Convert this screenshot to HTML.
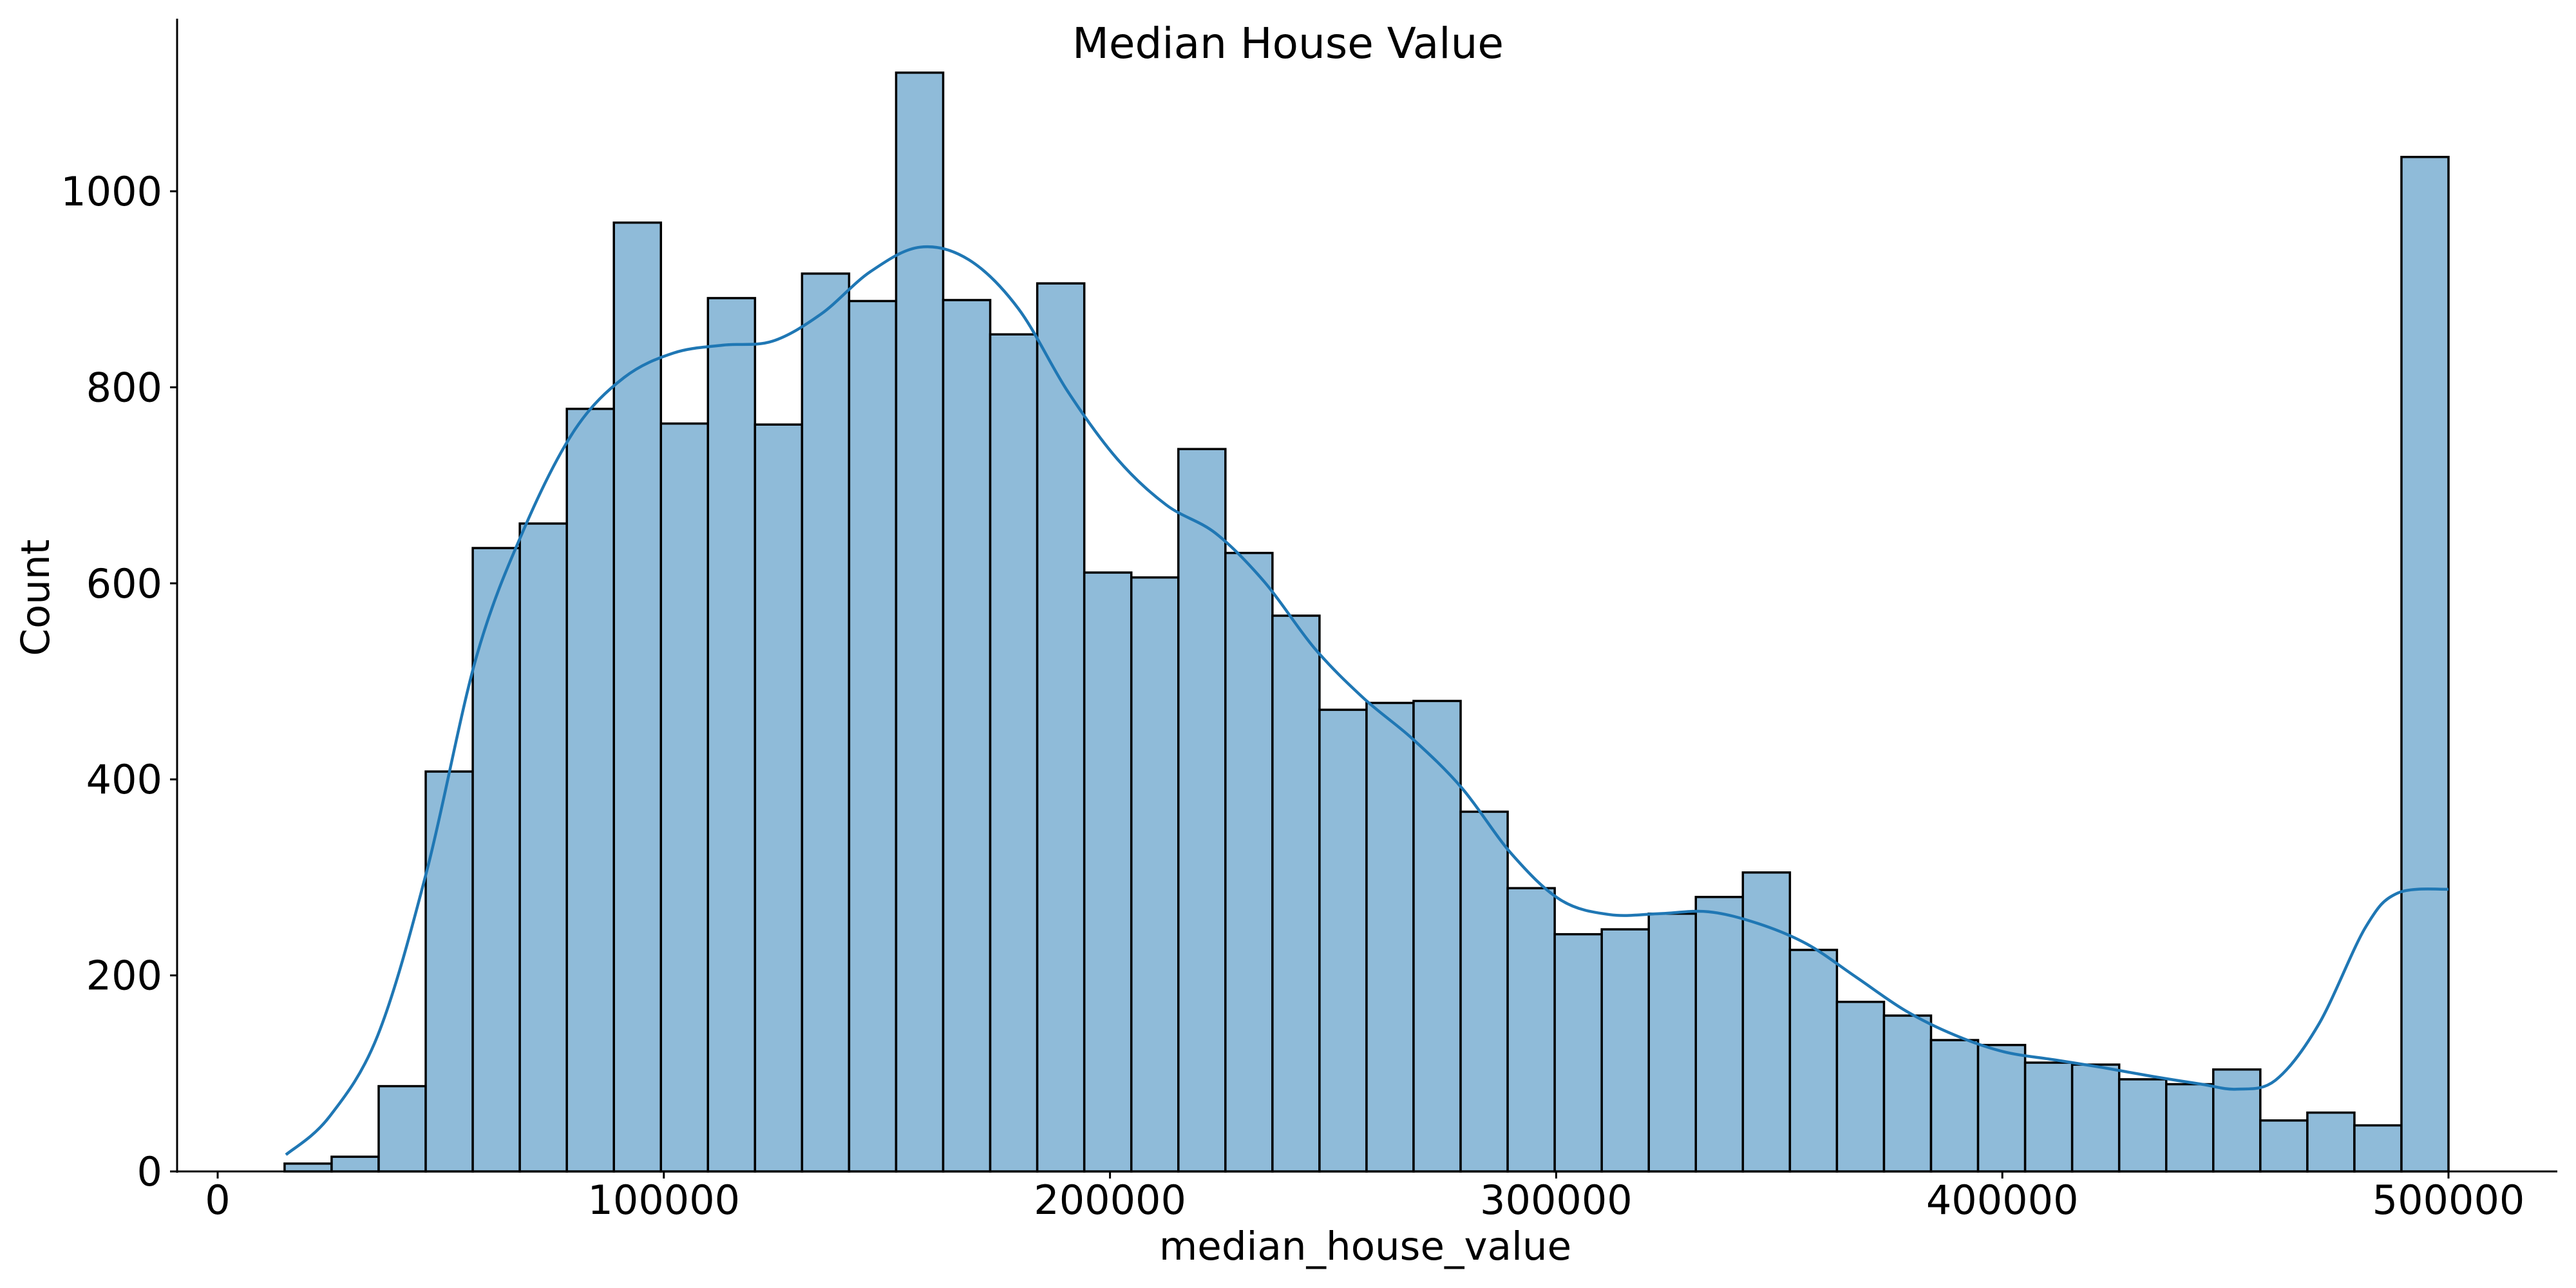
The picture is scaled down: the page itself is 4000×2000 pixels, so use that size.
<!DOCTYPE html>
<html><head><meta charset="utf-8"><style>
html,body{margin:0;padding:0;background:#fff;width:4000px;height:2000px;overflow:hidden}
svg text{font-family:"DejaVu Sans","Liberation Sans",sans-serif;fill:#000}
</style></head><body>
<svg id="chart" width="4000" height="2000" viewBox="0 0 4000 2000" xmlns="http://www.w3.org/2000/svg">
<text x="2000" y="90" font-size="66" text-anchor="middle">Median House Value</text>
<text x="2120" y="1956" font-size="61" text-anchor="middle">median_house_value</text>
<text x="0" y="0" font-size="61" text-anchor="middle" transform="translate(76,928) rotate(-90)">Count</text>
<g id="bars"></g>
<g id="kde"></g>
<g id="axes"></g>
</svg>
<script>
const binStart = 14999;
const binEnd = 500001;
const counts = [8,15,87,408,636,661,778,968,763,891,762,916,888,1121,889,854,906,611,606,737,631,567,471,478,480,367,289,242,247,263,280,305,226,173,159,134,129,111,109,94,89,104,52,60,47,1035];
const kdeX = [15300,24900,35900,46900,58000,69000,80100,91100,102200,113200,124300,135300,146300,157400,168400,179500,190500,201600,212600,223700,234700,245800,256800,267900,278900,290000,301000,312000,323100,334100,345200,356200,367300,378300,389400,400400,411500,422500,433600,444600,452500,461200,470900,481400,488600,500000];
const kdeY = [17,55,139,307,525,659,757,810,835,843,847,875,918,943,930,880,796,727,680,651,601,534,483,441,391,324,277,262,263,265,253,232,198,164,139,122,114,106,97,89,84,93,150,249,284,288];
const xTicks = [0,100000,200000,300000,400000,500000];
const yTicks = [0,200,400,600,800,1000];

const X0=338, X1=3802, Y0=1819, Y1000=297;
const sx = v => X0 + (v/500000)*(X1-X0);
const sy = v => Y0 - (v/1000)*(Y0-Y1000);
const NS='http://www.w3.org/2000/svg';
function mk(tag, attrs){const e=document.createElementNS(NS,tag);for(const k in attrs)e.setAttribute(k,attrs[k]);return e;}

const bars=document.getElementById('bars');
const w=(binEnd-binStart)/counts.length;
counts.forEach((c,i)=>{
  const a=binStart+i*w, b=a+w;
  const r=mk('rect',{x:sx(a),y:sy(c),width:sx(b)-sx(a),height:sy(0)-sy(c),fill:'#8fbbd9',stroke:'#000','stroke-width':3.5});
  
  
  bars.appendChild(r);
});

const kde=document.getElementById('kde');
const pts=kdeX.map((x,i)=>[sx(x),sy(kdeY[i])]);
let d='M'+pts[0][0].toFixed(1)+','+pts[0][1].toFixed(1);
for(let i=0;i<pts.length-1;i++){
  const p0=pts[Math.max(0,i-1)],p1=pts[i],p2=pts[i+1],p3=pts[Math.min(pts.length-1,i+2)];
  const c1=[p1[0]+(p2[0]-p0[0])/6,p1[1]+(p2[1]-p0[1])/6];
  const c2=[p2[0]-(p3[0]-p1[0])/6,p2[1]-(p3[1]-p1[1])/6];
  d+='C'+c1[0].toFixed(1)+','+c1[1].toFixed(1)+' '+c2[0].toFixed(1)+','+c2[1].toFixed(1)+' '+p2[0].toFixed(1)+','+p2[1].toFixed(1);
}
const p=mk('path',{d:d,fill:'none',stroke:'#1f77b4','stroke-width':4.5,'stroke-linejoin':'round'});


kde.appendChild(p);

const axes=document.getElementById('axes');
const ls=mk('line',{x1:275,y1:29,x2:275,y2:1821,stroke:'#000','stroke-width':3});


axes.appendChild(ls);
const bs=mk('line',{x1:273,y1:1819,x2:3971,y2:1819,stroke:'#000','stroke-width':3});


axes.appendChild(bs);
xTicks.forEach(t=>{
  const x=sx(t);
  const l=mk('line',{x1:x,y1:1819,x2:x,y2:1830,stroke:'#000','stroke-width':3});
  
  
  axes.appendChild(l);
  const tx=mk('text',{x:x,y:1885,'font-size':62,'text-anchor':'middle'});
  tx.textContent=t;
  
  
  axes.appendChild(tx);
});
yTicks.forEach(t=>{
  const y=sy(t);
  const l=mk('line',{x1:264,y1:y,x2:275,y2:y,stroke:'#000','stroke-width':3});
  
  
  axes.appendChild(l);
  const tx=mk('text',{x:252,y:y+22,'font-size':62,'text-anchor':'end'});
  tx.textContent=t;
  
  
  axes.appendChild(tx);
});
</script>
</body></html>
